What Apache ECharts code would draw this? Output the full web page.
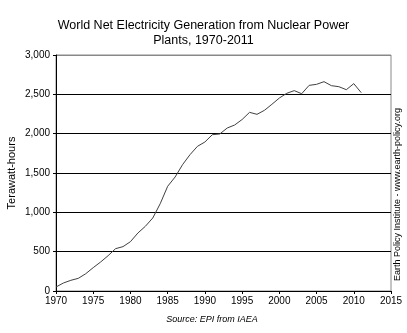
<!DOCTYPE html>
<html><head><meta charset="utf-8">
<script src="https://cdn.jsdelivr.net/npm/echarts@6/dist/echarts.min.js"></script>
<style>html,body{margin:0;padding:0;background:#fff}#c{width:407px;height:333px}</style>
</head><body><div id="c"></div>
<script>
var years = [1970,1971,1972,1973,1974,1975,1976,1977,1978,1979,1980,1981,1982,1983,1984,1985,1986,1987,1988,1989,1990,1991,1992,1993,1994,1995,1996,1997,1998,1999,2000,2001,2002,2003,2004,2005,2006,2007,2008,2009,2010,2011];
var generation = [51,102,136,161,220,297,369,449,538,564,627,737,822,928,1110,1331,1449,1606,1733,1839,1894,1987,1996,2072,2110,2180,2271,2246,2297,2373,2453,2513,2547,2508,2614,2627,2661,2610,2597,2559,2636,2521];
var titleText = 'World Net Electricity Generation from Nuclear Power\nPlants, 1970-2011';
var yAxisName = 'Terawatt-hours';
var sourceText = 'Source: EPI from IAEA';
var creditText = 'Earth Policy Institute - www.earth-policy.org';

var chart = echarts.init(document.getElementById('c'), null, {renderer:'canvas'});
var font = 'Liberation Sans, Arial, sans-serif';
chart.setOption({
  animation:false,
  backgroundColor:'#fff',
  title:{text:titleText,left:'center',top:13,itemGap:0,
    textStyle:{fontFamily:font,fontSize:12.5,fontWeight:'normal',color:'#000',lineHeight:15}},
  grid:{left:56,right:16,top:55,bottom:42,outerBoundsMode:'none',containLabel:false,show:true,borderColor:'#888',borderWidth:1,backgroundColor:'transparent'},
  xAxis:{type:'value',min:1970,max:2015,interval:5,
    axisLine:{show:true,lineStyle:{color:'#000',width:1}},
    axisTick:{show:true,length:3,lineStyle:{color:'#000'}},
    axisLabel:{fontFamily:font,fontSize:10,color:'#000',margin:5,formatter:function(v){return String(v);}},
    splitLine:{show:false}},
  yAxis:{type:'value',min:0,max:3000,interval:500,
    axisLine:{show:true,lineStyle:{color:'#000',width:1}},
    axisTick:{show:true,length:3,lineStyle:{color:'#000'}},
    axisLabel:{fontFamily:font,fontSize:10,color:'#000',margin:6,
      formatter:function(v){return v.toLocaleString('en-US');}},
    splitLine:{show:true,lineStyle:{color:['#000','#000','#000','#000','#000','#000','#888'],width:1}}},
  series:[{type:'line',data:years.map(function(y,i){return [y,generation[i]];}),
    showSymbol:false,symbol:'none',lineStyle:{color:'#404040',width:1}}],
  graphic:[
    {type:'text',x:12,y:173,rotation:Math.PI/2,style:{text:yAxisName,font:'11px '+font,fill:'#000',textAlign:'center',textVerticalAlign:'middle'}},
    {type:'text',x:212,y:319,style:{text:sourceText,font:'italic 9px '+font,fill:'#000',textAlign:'center',textVerticalAlign:'middle'}},
    {type:'text',x:398,y:281,rotation:Math.PI/2,style:{text:creditText,font:'9px '+font,fill:'#000',textAlign:'left',textVerticalAlign:'middle'}}
  ]
});
</script></body></html>
